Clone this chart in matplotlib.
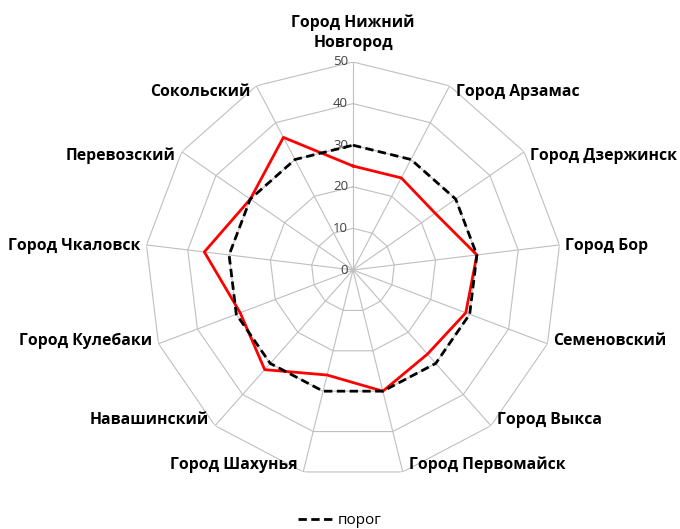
import numpy as np
import matplotlib
matplotlib.use("Agg")
import matplotlib.pyplot as plt

# data
categories = ["Город Нижний\nНовгород", "Город Арзамас", "Город Дзержинск", "Город Бор",
              "Семеновский", "Город Выкса", "Город Первомайск", "Город Шахунья",
              "Навашинский", "Город Кулебаки", "Город Чкаловск", "Перевозский", "Сокольский"]
values = [25, 25, 24, 30, 29, 27, 30, 26, 32, 29, 36, 30, 36]
threshold = [30, 30, 30, 30, 30, 30, 30, 30, 30, 30, 30, 30, 30]
rticks = [0, 10, 20, 30, 40, 50]

plt.rcParams['font.family'] = ['Open Sans', 'DejaVu Sans']

n = len(categories)
angles = np.arange(n) * 2 * np.pi / n
closed = np.append(angles, angles[0])

fig = plt.figure(figsize=(6.8, 5.29), dpi=100)
ax = fig.add_axes([0.2132, 0.0964, 0.6118, 0.7864], projection='polar')
ax.set_theta_zero_location('N')
ax.set_theta_direction(-1)
ax.set_ylim(0, 50)
ax.grid(False)
ax.spines['polar'].set_visible(False)
ax.set_xticks([])
ax.set_yticks([])
ax.patch.set_alpha(0)

grid_col = '#BFBFBF'
for r in rticks[1:]:
    ax.plot(closed, [r] * (n + 1), color=grid_col, lw=0.8, zorder=1)
for a in angles:
    ax.plot([a, a], [0, 50], color=grid_col, lw=0.8, zorder=1)

# tick labels on the vertical axis
for r in rticks:
    ax.annotate(str(r), xy=(0, r), xytext=(-5, 0), textcoords='offset pixels',
                ha='right', va='center', fontsize=9.5, color='#404040')

ax.plot(closed, np.append(values, values[0]), color='red', lw=2.0, zorder=3)
ax.plot(closed, np.append(threshold, threshold[0]), color='black', lw=2.0,
        dashes=(3, 1.6), zorder=4, label='порог')

# category labels around the chart
for a, lab in zip(angles, categories):
    s, c = np.sin(a), np.cos(a)
    if abs(s) < 0.01:
        ax.annotate(lab, xy=(a, 50), xytext=(0, 11), textcoords='offset pixels',
                    ha='center', va='bottom', fontsize=11.3, fontweight='bold',
                    linespacing=1.35)
    else:
        ax.annotate(lab, xy=(a, 50), xytext=(6 * np.sign(s), -7 * c),
                    textcoords='offset pixels', ha='left' if s > 0 else 'right',
                    va='center', fontsize=11.3, fontweight='bold')

fig.legend(loc='lower center', bbox_to_anchor=(0.5, -0.025), frameon=False,
           fontsize=11, handlelength=2.3, handletextpad=0.3)

fig.savefig("out.png", dpi=100)
